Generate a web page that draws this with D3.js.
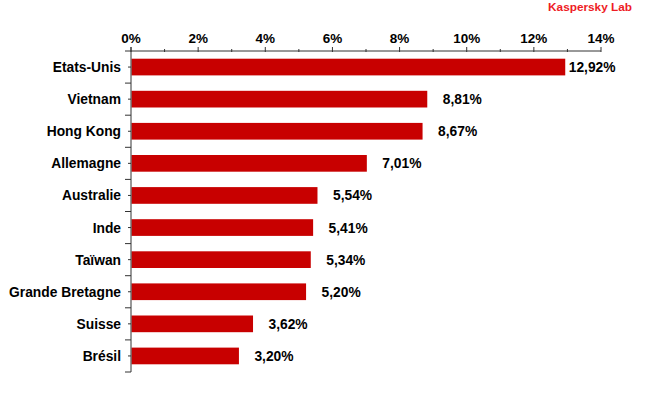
<!DOCTYPE html>
<html>
<head>
<meta charset="utf-8">
<script src="https://cdn.jsdelivr.net/npm/d3@7"></script>
<style>
  html, body { margin: 0; padding: 0; background: #fff; }
  svg { display: block; }
  text { font-family: "Liberation Sans", Arial, sans-serif; font-weight: bold; }
</style>
</head>
<body>
<svg id="chart" width="650" height="400"></svg>
<script>
const categories = ["Etats-Unis", "Vietnam", "Hong Kong", "Allemagne", "Australie", "Inde", "Taïwan", "Grande Bretagne", "Suisse", "Brésil"];
const values = [12.92, 8.81, 8.67, 7.01, 5.54, 5.41, 5.34, 5.20, 3.62, 3.20];
const majorTicks = [0, 2, 4, 6, 8, 10, 12, 14];
const minorTicks = [1, 3, 5, 7, 9, 11, 13];
const title = "Kaspersky Lab";

(function () {
const svg = d3.select("#chart");
const mLeft = 131, mRight = 601, mTop = 51, mBottom = 372;
const axisColor = "#333";

const x = d3.scaleLinear().domain([0, 14]).range([mLeft, mRight]);
const y = d3.scaleBand().domain(categories).range([mTop, mBottom])
  .paddingInner(0.48).paddingOuter(0.24);

const fmt = v => v.toFixed(2).replace(".", ",") + "%";

// Bars
svg.append("g").selectAll("rect").data(values).join("rect")
  .attr("x", x(0) + 0.5)
  .attr("y", (d, i) => y(categories[i]))
  .attr("width", d => x(d) - x(0))
  .attr("height", y.bandwidth())
  .attr("fill", "#c80000");

// Top axis
const gx = svg.append("g").attr("transform", `translate(0,${mTop})`);
gx.append("line").attr("x1", mLeft).attr("x2", mRight).attr("stroke", axisColor);
gx.selectAll(".maj").data(majorTicks).join("line")
  .attr("x1", d => x(d)).attr("x2", d => x(d)).attr("y1", -4).attr("y2", 1)
  .attr("stroke", axisColor);
gx.selectAll(".min").data(minorTicks).join("line")
  .attr("x1", d => x(d)).attr("x2", d => x(d)).attr("y1", -2).attr("y2", 1)
  .attr("stroke", axisColor);
gx.selectAll("text").data(majorTicks).join("text")
  .attr("x", d => x(d)).attr("y", -8)
  .attr("text-anchor", "middle")
  .attr("font-size", "13.5px").attr("fill", "#000")
  .text(d => d + "%");

// Left axis
const gy = svg.append("g");
gy.append("line").attr("x1", mLeft).attr("x2", mLeft).attr("y1", mTop - 4).attr("y2", mBottom)
  .attr("stroke", axisColor);
const bounds = categories.map(c => y(c) - y.step() * y.paddingInner() / 2).concat([mBottom]);
gy.selectAll(".bd").data(bounds).join("line")
  .attr("x1", mLeft - 6).attr("x2", mLeft).attr("y1", d => d).attr("y2", d => d)
  .attr("stroke", axisColor);
gy.selectAll(".ct").data(categories).join("line")
  .attr("x1", mLeft - 3).attr("x2", mLeft)
  .attr("y1", d => y(d) + y.bandwidth() / 2).attr("y2", d => y(d) + y.bandwidth() / 2)
  .attr("stroke", axisColor);
gy.selectAll("text").data(categories).join("text")
  .attr("x", mLeft - 10)
  .attr("y", d => y(d) + y.bandwidth() / 2)
  .attr("dy", "0.36em")
  .attr("text-anchor", "end")
  .attr("font-size", "13.8px").attr("fill", "#000")
  .text(d => d);

// Value labels
svg.append("g").selectAll("text").data(values).join("text")
  .attr("x", d => x(d) + (d > 12 ? 4 : 16))
  .attr("y", (d, i) => y(categories[i]) + y.bandwidth() / 2)
  .attr("dy", "0.36em")
  .attr("font-size", "13.8px").attr("fill", "#000")
  .text(d => fmt(d));

// Title
svg.append("text")
  .attr("x", 632).attr("y", 11)
  .attr("text-anchor", "end")
  .attr("font-size", "11.8px").attr("fill", "#ee1c25")
  .text(title);
})();
</script>
</body>
</html>
